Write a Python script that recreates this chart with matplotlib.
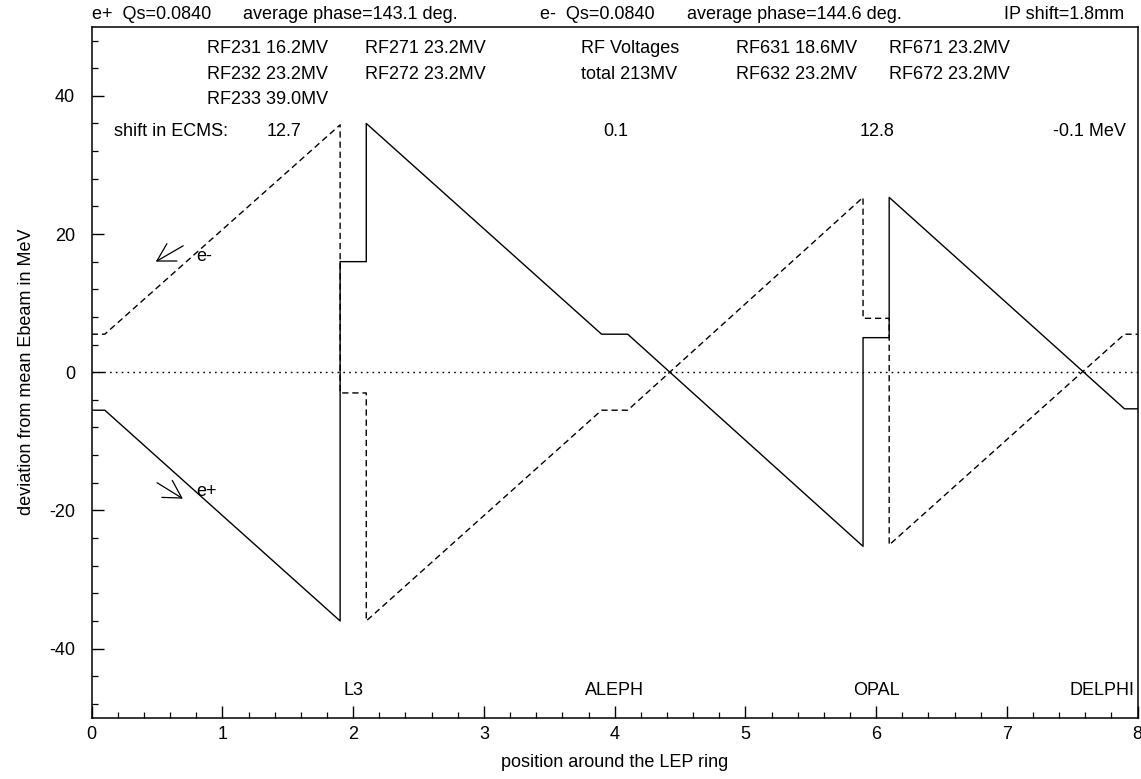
import matplotlib
matplotlib.use("Agg")
import matplotlib.pyplot as plt
from matplotlib.ticker import MultipleLocator

plt.rcParams['font.family'] = ['Liberation Sans', 'DejaVu Sans']
plt.rcParams['lines.scale_dashes'] = False
plt.rcParams['axes.unicode_minus'] = False

# ---- data ----
positions = [0.0, 0.1, 1.9, 1.9, 2.1, 2.1, 3.9, 4.1, 5.9, 5.9, 6.1, 6.1, 7.9, 8.0]
e_plus = [-5.5, -5.5, -36.0, 16.0, 16.0, 36.0, 5.5, 5.5, -25.2, 5.0, 5.0, 25.3, -5.3, -5.3]
e_minus = [5.5, 5.5, 35.8, -3.0, -3.0, -36.0, -5.5, -5.5, 25.3, 7.8, 7.8, -25.0, 5.5, 5.5]

experiments = ["L3", "ALEPH", "OPAL", "DELPHI"]
experiment_pos = [2.0, 4.0, 6.0, 7.98]

rf_row1 = ["RF231 16.2MV", "RF271 23.2MV", "RF Voltages", "RF631 18.6MV", "RF671 23.2MV"]
rf_row2 = ["RF232 23.2MV", "RF272 23.2MV", "total 213MV", "RF632 23.2MV", "RF672 23.2MV"]
rf_row3 = ["RF233 39.0MV"]
ecms_shifts = ["12.7", "0.1", "12.8", "-0.1 MeV"]

header = ["e+  Qs=0.0840", "average phase=143.1 deg.", "e-  Qs=0.0840",
          "average phase=144.6 deg.", "IP shift=1.8mm"]

xticks = [0, 1, 2, 3, 4, 5, 6, 7, 8]
yticks = [-40, -20, 0, 20, 40]

# ---- figure ----
fig = plt.figure(figsize=(11.41, 7.79), dpi=100)
ax = fig.add_axes([0.0804, 0.0787, 0.9166, 0.8870])
ax.set_xlim(0, 8)
ax.set_ylim(-50, 50)

ax.plot(positions, e_plus, color='black', lw=1.0)
ax.plot(positions, e_minus, color='black', lw=1.0, linestyle=(0, (4.5, 2.8)))
ax.axhline(0, color='black', lw=1.0, linestyle=(0, (1.2, 3.0)))

for s in ax.spines.values():
    s.set_linewidth(1.1)

ax.set_xticks(xticks)
ax.set_yticks(yticks)
ax.xaxis.set_minor_locator(MultipleLocator(0.2))
ax.yaxis.set_minor_locator(MultipleLocator(4))
ax.tick_params(which='both', direction='in', top=False, right=False, labelsize=13)
ax.tick_params(axis='x', which='major', length=8.5, width=1.0, pad=6)
ax.tick_params(axis='y', which='major', length=8.5, width=1.0, pad=12)
ax.tick_params(which='minor', length=4, width=0.9)

ax.set_xlabel("position around the LEP ring", fontsize=13, labelpad=8)
ax.set_ylabel("deviation from mean Ebeam in MeV", fontsize=13, labelpad=10)

fs = 13
# header row above the axes
hx = [0.0, 1.155, 3.43, 4.55, 7.90]
hal = ['left', 'left', 'left', 'left', 'right']
for t, x, a in zip(header, hx, hal):
    ax.text(x, 51.1, t, ha=a, va='baseline', fontsize=fs, clip_on=False)

# RF voltages
r1x = [0.883, 2.09, 3.74, 4.93, 6.10]
for t, x in zip(rf_row1, r1x):
    ax.text(x, 46.9, t, ha='left', va='center', fontsize=fs)
for t, x in zip(rf_row2, r1x):
    ax.text(x, 43.1, t, ha='left', va='center', fontsize=fs)
ax.text(0.883, 39.4, rf_row3[0], ha='left', va='center', fontsize=fs)

# ECMS shifts
ax.text(0.17, 34.9, "shift in ECMS:", ha='left', va='center', fontsize=fs)
sx = [1.47, 4.01, 6.01, 7.91]
sa = ['center', 'center', 'center', 'right']
for t, x, a in zip(ecms_shifts, sx, sa):
    ax.text(x, 34.9, t, ha=a, va='center', fontsize=fs)

# experiments
for t, x in zip(experiments, experiment_pos):
    ax.text(x, -46.1, t, ha='right' if t == "DELPHI" else 'center', va='center', fontsize=fs)

# beam direction arrows
arrow = dict(arrowstyle="->,head_length=12.5,head_width=7.2", mutation_scale=1,
             color='black', lw=0.9, shrinkA=0, shrinkB=0)
ax.annotate("", xy=(0.49, 16.0), xytext=(0.70, 18.3), arrowprops=arrow)
ax.text(0.86, 16.8, "e-", ha='center', va='center', fontsize=fs)
ax.annotate("", xy=(0.697, -18.3), xytext=(0.50, -16.0), arrowprops=arrow)
ax.text(0.88, -17.3, "e+", ha='center', va='center', fontsize=fs)

fig.savefig("out.png", dpi=100)
